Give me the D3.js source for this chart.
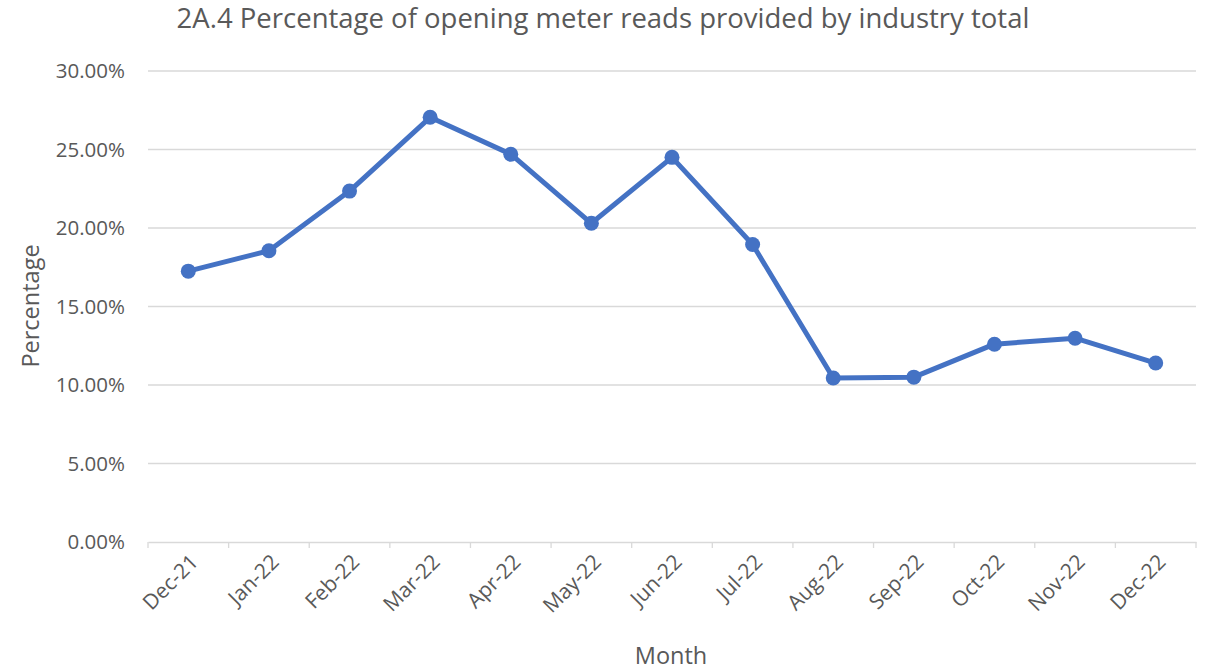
<!DOCTYPE html>
<html>
<head>
<meta charset="utf-8">
<script src="https://cdn.jsdelivr.net/npm/d3@7"></script>
<style>
  body { margin: 0; background: #fff; }
  svg { font-family: "Open Sans", "Liberation Sans", sans-serif; }
</style>
</head>
<body>
<svg id="chart" width="1205" height="670"></svg>
<script>
// Data
const months = ["Dec-21", "Jan-22", "Feb-22", "Mar-22", "Apr-22", "May-22", "Jun-22",
  "Jul-22", "Aug-22", "Sep-22", "Oct-22", "Nov-22", "Dec-22"];
const percentages = [17.25, 18.55, 22.35, 27.05, 24.7, 20.3, 24.5,
  18.95, 10.45, 10.5, 12.6, 12.98, 11.4];
const yTicks = [0, 5, 10, 15, 20, 25, 30];

const svg = d3.select("#chart");
const margin = { top: 71, right: 9, bottom: 128, left: 148 };
const width = 1205 - margin.left - margin.right;
const height = 670 - margin.top - margin.bottom;

const g = svg.append("g").attr("transform", `translate(${margin.left},${margin.top})`);

const x = d3.scaleBand().domain(months).range([0, width]);
const y = d3.scaleLinear().domain([0, 30]).range([height, 0]);

// Gridlines
g.selectAll(".grid")
  .data(yTicks.filter(d => d > 0))
  .enter()
  .append("line")
  .attr("x1", 0)
  .attr("x2", width)
  .attr("y1", d => y(d))
  .attr("y2", d => y(d))
  .attr("stroke", "#d9d9d9")
  .attr("stroke-width", 1.3);

// Y axis labels
g.selectAll(".ylab")
  .data(yTicks)
  .enter()
  .append("text")
  .attr("x", -23)
  .attr("y", d => y(d))
  .attr("dy", "0.35em")
  .attr("text-anchor", "end")
  .attr("fill", "#595959")
  .attr("font-size", "20.5px")
  .text(d => d.toFixed(2) + "%");

// X axis
const xAxis = g.append("g")
  .attr("transform", `translate(0,${height})`)
  .call(d3.axisBottom(x).tickSize(0).tickFormat(""));
xAxis.select(".domain").attr("stroke", "#d9d9d9").attr("stroke-width", 1.3);

const tickPositions = months.map(m => x(m)).concat([width]);
xAxis.selectAll(".tickmark")
  .data(tickPositions)
  .enter()
  .append("line")
  .attr("x1", d => d)
  .attr("x2", d => d)
  .attr("y1", 0)
  .attr("y2", 6)
  .attr("stroke", "#d9d9d9")
  .attr("stroke-width", 1.3);

g.selectAll(".xlab")
  .data(months)
  .enter()
  .append("text")
  .attr("transform", d => `translate(${x(d) + x.bandwidth() / 2 + 6},${height + 16}) rotate(-45)`)
  .attr("text-anchor", "end")
  .attr("dy", "0.35em")
  .attr("fill", "#595959")
  .attr("font-size", "21px")
  .text(d => d);

// Line
const line = d3.line()
  .x((d, i) => x(months[i]) + x.bandwidth() / 2)
  .y(d => y(d));

g.append("path")
  .datum(percentages)
  .attr("fill", "none")
  .attr("stroke", "#4472c4")
  .attr("stroke-width", 5)
  .attr("stroke-linejoin", "round")
  .attr("d", line);

g.selectAll(".dot")
  .data(percentages)
  .enter()
  .append("circle")
  .attr("cx", (d, i) => x(months[i]) + x.bandwidth() / 2)
  .attr("cy", d => y(d))
  .attr("r", 7.5)
  .attr("fill", "#4472c4");

// Title and axis titles
svg.append("text")
  .attr("x", 603)
  .attr("y", 28)
  .attr("text-anchor", "middle")
  .attr("fill", "#595959")
  .attr("font-size", "27.5px")
  .text("2A.4 Percentage of opening meter reads provided by industry total");

svg.append("text")
  .attr("x", 671)
  .attr("y", 664)
  .attr("text-anchor", "middle")
  .attr("fill", "#595959")
  .attr("font-size", "23.5px")
  .text("Month");

svg.append("text")
  .attr("transform", "translate(39,306) rotate(-90)")
  .attr("text-anchor", "middle")
  .attr("fill", "#595959")
  .attr("font-size", "23.5px")
  .text("Percentage");
</script>
</body>
</html>
